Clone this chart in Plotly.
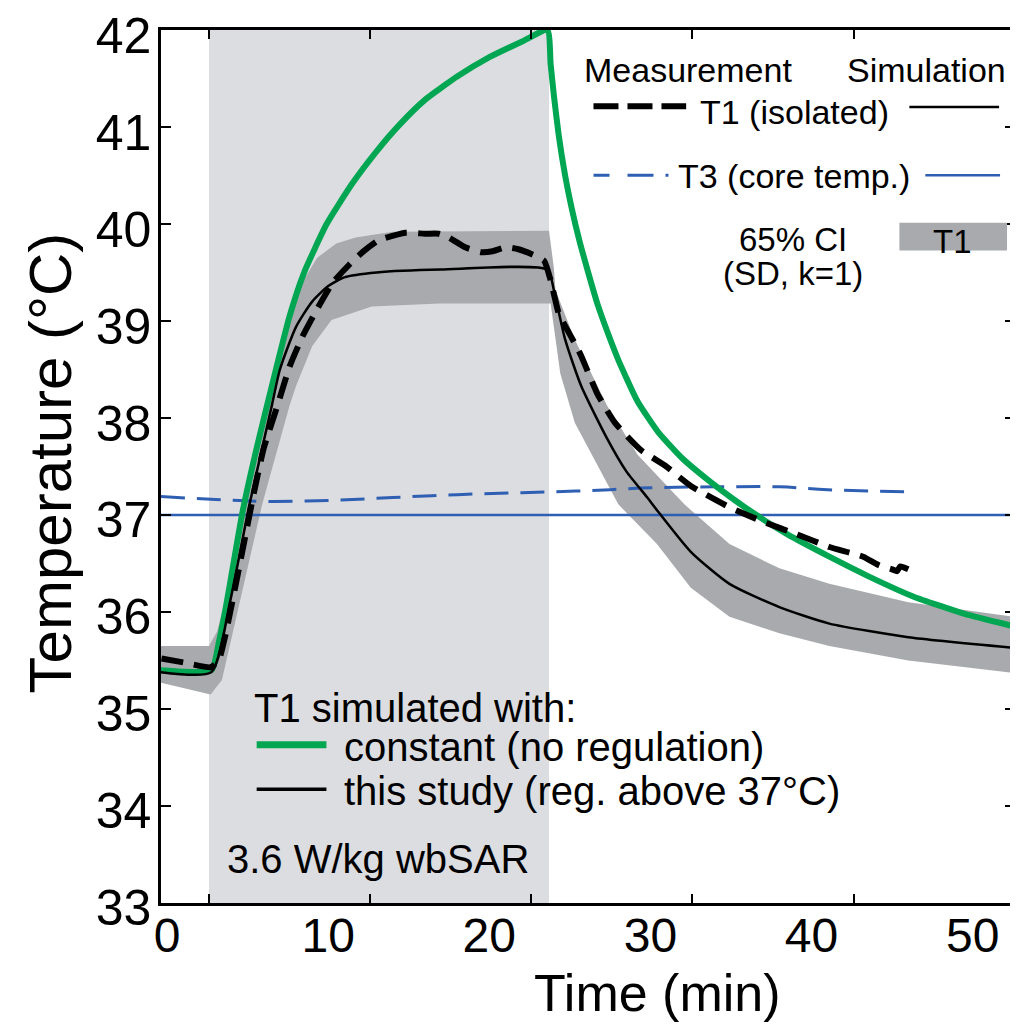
import plotly.graph_objects as go

# ---------------- data ----------------
exposure_start, exposure_end = 2.6, 23.7

t_green = [-0.4, 2.75, 3.2, 3.7, 4.2, 4.7, 5.6, 6.5, 7.6, 8.5, 9.9, 11.5, 13.0, 14.4, 16.0, 18.0, 20.0, 22.0, 23.6,
           23.8, 24.0, 24.3, 24.7, 25.1, 25.6, 26.1, 26.7, 27.3, 28.0, 29.2, 30.5, 32.0, 33.5, 35.0, 36.2, 38.5,
           41.1, 43.5, 46.3, 49.5, 52.62]
T_green = [35.40, 35.40, 35.68, 36.1, 36.58, 37.05, 37.72, 38.33, 39.05, 39.5, 40.0, 40.42, 40.75, 41.02, 41.28, 41.52,
           41.72, 41.88, 42.0, 41.65, 41.33, 40.92, 40.5, 40.17, 39.82, 39.52, 39.18, 38.9, 38.6, 38.17, 37.85, 37.58,
           37.37, 37.18, 37.04, 36.8, 36.57, 36.37, 36.16, 35.98, 35.85]

t_sim = [-0.4, 2.75, 3.9, 5.1, 6.5, 7.0, 8.0, 9.0, 10.0, 11.0, 13.0, 17.0, 23.6, 24.0, 24.7, 25.7, 27.3, 28.5, 29.8,
         30.4, 32.5, 34.9, 38.0, 41.1, 46.0, 52.62]
T_sim = [35.38, 35.38, 36.1, 37.1, 38.13, 38.5, 38.94, 39.2, 39.36, 39.45, 39.5, 39.53, 39.53, 39.32, 38.81, 38.33, 37.79,
         37.45, 37.18, 37.05, 36.62, 36.29, 36.05, 35.88, 35.74, 35.63]

t_ci_up = [-0.4, 2.6, 3.1, 3.9, 4.8, 5.7, 6.6, 7.6, 8.4, 9.3, 10.5, 11.7, 14.0, 23.7, 24.0, 24.1, 25.3, 27.3, 29.2,
           32.1, 34.9, 38.0, 41.1, 46.0, 52.62]
T_ci_up = [35.65, 35.65, 35.8, 36.3, 37.1, 37.8, 38.4, 39.0, 39.4, 39.65, 39.8, 39.86, 39.92, 39.93, 39.55, 39.32, 38.81,
           38.13, 37.62, 37.11, 36.7, 36.45, 36.29, 36.1, 35.95]
t_ci_lo = [-0.4, 2.7, 3.4, 4.5, 5.9, 7.6, 8.0, 9.0, 10.2, 12.7, 16.9, 23.8, 24.4, 25.3, 26.7, 28.0, 30.4, 32.5, 34.9,
           38.0, 41.1, 46.0, 52.62]
T_ci_lo = [35.27, 35.15, 35.3, 36.09, 37.11, 38.13, 38.33, 38.74, 39.01, 39.15, 39.18, 39.18, 38.46, 37.95, 37.51, 37.11,
           36.7, 36.25, 35.95, 35.78, 35.65, 35.5, 35.37]

t_meas = [-0.35, 1.0, 2.7, 3.2, 3.6, 4.4, 5.4, 6.0, 6.85, 7.6, 8.4, 9.4, 10.3, 11.3, 12.2, 13.1, 14.8, 16.0, 16.85,
          17.5, 18.5, 19.5, 20.2, 21.0, 21.8, 22.6, 23.4, 23.8, 24.3, 24.7, 25.3, 25.7, 26.7, 27.8, 29.4, 30.9, 32.5,
          34.9, 37.0, 39.1, 41.1, 43.2, 44.2, 45.0, 45.3, 45.5, 46.0]
T_meas = [35.52, 35.48, 35.43, 35.5, 35.75, 36.4, 37.24, 37.69, 38.13, 38.53, 38.84, 39.15, 39.4, 39.58, 39.72, 39.83,
          39.91, 39.9, 39.9, 39.86, 39.76, 39.71, 39.72, 39.76, 39.74, 39.69, 39.62, 39.42, 39.08, 38.95, 38.77, 38.64,
          38.25, 37.95, 37.67, 37.51, 37.3, 37.08, 36.93, 36.8, 36.67, 36.57, 36.48, 36.44, 36.42, 36.47, 36.44]

t_core_meas = [-0.4, 3, 6, 10, 14, 18, 22, 26, 30, 34, 38, 41, 46]
T_core_meas = [37.19, 37.16, 37.14, 37.15, 37.18, 37.21, 37.23, 37.25, 37.28, 37.29, 37.29, 37.26, 37.24]

t_core_sim = [-0.4, 52.62]
T_core_sim = [37.0, 37.0]

x_tick_pos = [2.6, 12.6, 22.6, 32.6, 42.6, 52.6]
x_tick_text = ["0", "10", "20", "30", "40", "50"]
y_ticks = [33, 34, 35, 36, 37, 38, 39, 40, 41, 42]

# ---------------- layout constants ----------------
OFF = 8  # page body offset of the plot div
W, H = 1018 - OFF, 1025 - OFF
L, T = 161 - OFF, 20 - OFF
R = 0
B = H - (903 - OFF)
PW, PH = W - L - R, H - T - B
FONT = "Liberation Sans, Arial, Helvetica, sans-serif"

GREEN = "#00a651"
BLUE = "#2f5fb3"
BAND = "#a8aaad"
EXPO = "#dcdde0"


def px(x):  # window pixel -> paper
    return (x - OFF - L) / PW


def py(y):
    return (H - B - (y - OFF)) / PH


fig = go.Figure()

fig.add_trace(go.Scatter(x=t_ci_up + t_ci_lo[::-1], y=T_ci_up + T_ci_lo[::-1], fill="toself",
                         fillcolor=BAND, line=dict(width=0), mode="lines", hoverinfo="skip"))
fig.add_trace(go.Scatter(x=t_core_sim, y=T_core_sim, mode="lines", line=dict(color=BLUE, width=2.5)))
fig.add_trace(go.Scatter(x=t_core_meas, y=T_core_meas, mode="lines",
                         line=dict(color=BLUE, width=3, dash="24px,12px", shape="spline")))
fig.add_trace(go.Scatter(x=t_green, y=T_green, mode="lines",
                         line=dict(color=GREEN, width=6, shape="spline", smoothing=0.5)))
fig.add_trace(go.Scatter(x=t_sim, y=T_sim, mode="lines",
                         line=dict(color="black", width=2.5, shape="spline", smoothing=0.6)))
fig.add_trace(go.Scatter(x=t_meas, y=T_meas, mode="lines",
                         line=dict(color="black", width=6, dash="22px,11px", shape="spline", smoothing=0.5)))

shapes = [dict(type="rect", xref="x", yref="paper", x0=exposure_start, x1=exposure_end, y0=0, y1=1,
               fillcolor=EXPO, line=dict(width=0), layer="below")]


def hline(x0, x1, y, color, width, dash=None):
    d = dict(type="line", xref="paper", yref="paper", x0=px(x0), x1=px(x1), y0=py(y), y1=py(y),
             line=dict(color=color, width=width))
    if dash:
        d["line"]["dash"] = dash
    return d


shapes.append(hline(595, 688, 97, "black", 6, "25px,9px"))
shapes.append(hline(912, 1002, 98, "black", 2.5))
shapes.append(hline(595, 671, 167, BLUE, 3, "16px,18px,26px,12px,3px,60px"))
shapes.append(hline(928, 1003, 167, BLUE, 2.5))
shapes.append(dict(type="rect", xref="paper", yref="paper", x0=px(902), x1=px(1010), y0=py(243), y1=py(215),
                   fillcolor=BAND, line=dict(width=0)))
shapes.append(hline(257, 327, 743, GREEN, 7))
shapes.append(hline(257, 327, 788, "black", 3.5))

annotations = []


def text(s, x, y, size, xanchor="center", angle=0):
    annotations.append(dict(text=s, xref="paper", yref="paper", x=px(x), y=py(y), xanchor=xanchor,
                            yanchor="middle", showarrow=False, textangle=angle,
                            font=dict(family=FONT, size=size, color="black")))


text("Measurement", 690, 60, 34)
text("Simulation", 929, 60, 34)
text("T1 (isolated)", 797, 103, 34)
text("T3 (core temp.)", 796, 168, 34)
text("65% CI", 795, 232, 33)
text("(SD, k=1)", 795, 266, 33)
text("T1", 955, 234, 33)
text("T1 simulated with:", 252, 706, 40, "left")
text("constant (no regulation)", 343, 745, 40, "left")
text("this study (reg. above 37°C)", 343, 790, 40, "left")
text("3.6 W/kg wbSAR", 225, 859, 40, "left")
text("Time (min)", 659, 994, 52)
text("Temperature (°C)", 50, 458, 60, angle=-90)

fig.update_layout(
    width=W, height=H, margin=dict(l=L, r=R, t=T, b=B, pad=0),
    paper_bgcolor="white", plot_bgcolor="white", showlegend=False,
    shapes=shapes, annotations=annotations,
    xaxis=dict(range=[-0.38, 52.62], tickvals=x_tick_pos, ticktext=x_tick_text, ticks="inside", ticklen=9,
               tickwidth=2, tickcolor="black", showline=True, linecolor="black", linewidth=2.5, mirror="ticks",
               showgrid=False, zeroline=False, ticklabelshift=-42, ticklabelstandoff=-11,
               tickfont=dict(family=FONT, size=48, color="black")),
    yaxis=dict(range=[32.9995, 42.0005], tickvals=y_ticks, ticks="inside", ticklen=10, tickwidth=2,
               tickcolor="black", showline=True, linecolor="black", linewidth=2.5, mirror="ticks", showgrid=False,
               zeroline=False, ticklabelshift=5, ticklabelstandoff=-3, ticklabeloverflow="allow",
               tickfont=dict(family=FONT, size=50, color="black")),
    font=dict(family=FONT),
)

fig.write_html("out.html")
